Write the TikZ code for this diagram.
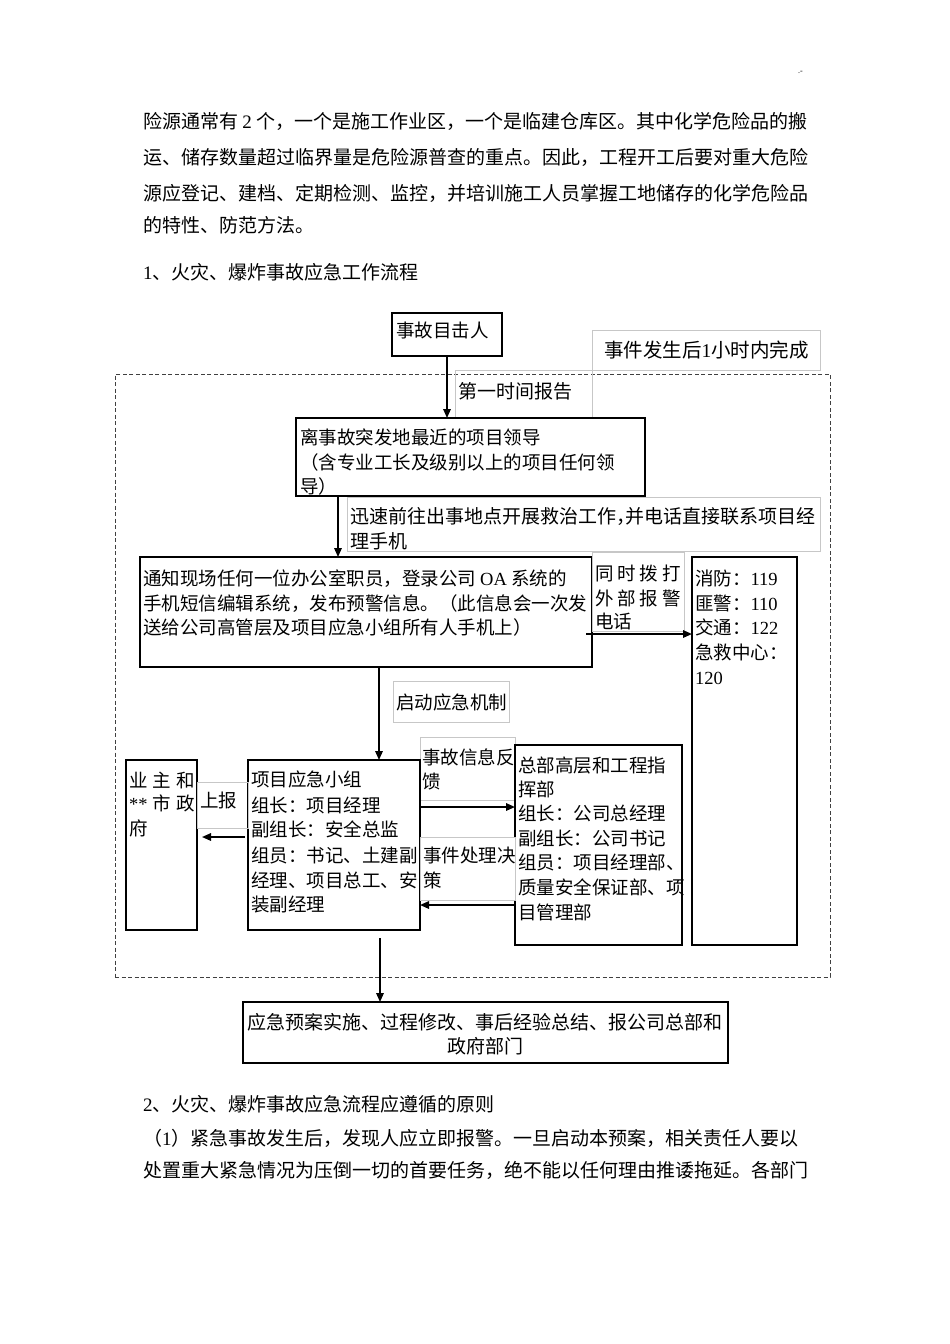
\documentclass[tikz,border=0pt]{standalone}
\usepackage{fontspec}
\setmainfont{Noto Sans CJK SC}
\newfontfamily\latf{Liberation Serif}
\usetikzlibrary{arrows.meta,calc}
\newcommand\lat[1]{{\latf #1}}
\newcounter{tn}
\newcommand\T[4][]{\stepcounter{tn}\node[txt,#1] (t\arabic{tn}) at (#2,#3+7) {#4};}
\begin{document}
\begin{tikzpicture}[x=1pt,y=-1pt,
  txt/.style={inner sep=0,outer sep=0,anchor=base west,font=\fontsize{18.5pt}{24pt}\selectfont},
  ptxt/.style={font=\fontsize{19pt}{24pt}\selectfont},
  box/.style={draw=black,line width=1.2pt,anchor=north west,inner sep=0,outer sep=0},
  tbox/.style={box,line width=2.2pt},
  lbl/.style={draw=black!22,line width=0.8pt,anchor=north west,inner sep=0,outer sep=0},
  dbox/.style={draw=black!75,dash pattern=on 4pt off 2.5pt,line width=1pt,anchor=north west,inner sep=0,outer sep=0},
  arr/.style={line width=1.6pt,-{Triangle[length=9pt,width=7.5pt]}}]
\useasboundingbox (0,0) rectangle (950,1344);
\fill[white] (0,0) rectangle (950,1344);

% page text
\T[font=\fontsize{8pt}{8pt}\selectfont]{798}{66}{\lat{.-}}
\T[ptxt]{143}{121}{险源通常有~\lat{2}~个，一个是施工作业区，一个是临建仓库区。其中化学危险品的搬}
\T[ptxt]{143}{157}{运、储存数量超过临界量是危险源普查的重点。因此，工程开工后要对重大危险}
\T[ptxt]{143}{193}{源应登记、建档、定期检测、监控，并培训施工人员掌握工地储存的化学危险品}
\T[ptxt]{143}{225}{的特性、防范方法。}
\T[ptxt]{143}{272}{\lat{1}、火灾、爆炸事故应急工作流程}

% dashed frame
\node[dbox,minimum width=715pt,minimum height=603pt] (Z) at (115,374) {};

% boxes
\node[box,minimum width=110pt,minimum height=43pt] (A) at (392,313) {};
\node[lbl,minimum width=228pt,minimum height=40pt] (B) at (592,330) {};
\node[lbl,minimum width=137pt,minimum height=48pt] (LA) at (455,370) {};
\node[tbox,minimum width=349pt,minimum height=78pt] (C) at (296,418) {};
\node[lbl,minimum width=473pt,minimum height=54pt] (LC) at (347,497) {};
\node[box,minimum width=452pt,minimum height=110pt] (D) at (140,557) {};
\node[lbl,minimum width=92pt,minimum height=79pt] (LD) at (592,552) {};
\node[box,minimum width=105pt,minimum height=388pt] (E) at (692,557) {};
\node[lbl,minimum width=116pt,minimum height=41pt] (LF) at (393,681) {};
\node[lbl,minimum width=95pt,minimum height=63pt] (LG) at (420,737) {};
\node[box,minimum width=172pt,minimum height=170pt] (F) at (248,760) {};
\node[box,minimum width=167pt,minimum height=200pt] (G) at (515,745) {};
\node[box,minimum width=71pt,minimum height=170pt] (H) at (126,760) {};
\node[lbl,minimum width=51pt,minimum height=46pt] (LH) at (197,782) {};
\node[lbl,fill=white,minimum width=95pt,minimum height=63pt] (LK) at (420,837) {};
\node[box,minimum width=485pt,minimum height=61pt] (I) at (243,1002) {};

% connectors
\coordinate (p1) at (338,0);
\coordinate (p2) at (379,0);
\coordinate (p3) at (380,0);
\coordinate (q1) at (0,634);
\coordinate (q2) at (0,807);
\coordinate (q3) at (0,905);
\coordinate (q4) at (0,837);
\draw[arr] (A.south) -- (A.south |- C.north);
\draw[arr] (p1 |- C.south) -- (p1 |- D.north);
\draw[arr] ($(D.east |- q1)+(-6,0)$) -- (E.west |- q1);
\draw[arr] (p2 |- D.south) -- (p2 |- F.north);
\draw[arr] (F.east |- q2) -- (G.west |- q2);
\draw[arr] (G.west |- q3) -- (F.east |- q3);
\draw[arr] ($(F.west |- q4)+(-3,0)$) -- ($(H.east |- q4)+(5,0)$);
\draw[arr] ($(p3 |- F.south)+(0,8)$) -- (p3 |- I.north);

% texts
\T{396}{330}{事故目击人}
\T[font=\fontsize{19.5pt}{24pt}\selectfont]{604}{350}{事件发生后\lat{1}小时内完成}
\T[ptxt]{458}{391}{第一时间报告}
\T{300}{437}{离事故突发地最近的项目领导}
\T{300}{462}{（含专业工长及级别以上的项目任何领}
\T{300}{486}{导）}
\T[ptxt]{350}{516}{迅速前往出事地点开展救治工作，\hspace{-9.5pt}并电话直接联系项目经}
\T[ptxt]{350}{541}{理手机}
\T{143}{578}{通知现场任何一位办公室职员，登录公司~\lat{OA}~系统的}
\T{143}{603}{手机短信编辑系统，发布预警信息。（此信息会一次发}
\T{143}{627}{送给公司高管层及项目应急小组所有人手机上）}
\T{595}{573}{\makebox[86pt][l]{同\hfill 时\hfill 拨\hfill 打}}
\T{595}{598}{\makebox[86pt][l]{外\hfill 部\hfill 报\hfill 警}}
\T{595}{621}{电话}
\T{695}{578}{消防：\lat{119}}
\T{695}{603}{匪警：\lat{110}}
\T{695}{627}{交通：\lat{122}}
\T{695}{652}{急救中心：}
\T{695}{677}{\lat{120}}
\T{396}{702}{启动应急机制}
\T{422}{757}{事故信息反}
\T{422}{781}{馈}
\T{251}{779}{项目应急小组}
\T{251}{805}{组长：项目经理}
\T{251}{829}{副组长：安全总监}
\T{251}{855}{组员：书记、土建副}
\T{251}{880}{经理、项目总工、安}
\T{251}{904}{装副经理}
\T{423}{855}{事件处理决}
\T{423}{880}{策}
\T{518}{765}{总部高层和工程指}
\T{518}{789}{挥部}
\T{518}{813}{组长：公司总经理}
\T{518}{838}{副组长：公司书记}
\T{518}{862}{组员：项目经理部、}
\T{518}{887}{质量安全保证部、项}
\T{518}{912}{目管理部}
\T{129}{780}{\makebox[66pt][l]{业\hfill 主\hfill 和}}
\T{129}{803}{\makebox[66pt][l]{\lat{**}\hfill 市\hfill 政}}
\T{129}{828}{府}
\T{200}{800}{上报}
\T[ptxt,anchor=base]{485}{1022}{应急预案实施、过程修改、事后经验总结、报公司总部和}
\T[ptxt,anchor=base]{485}{1046}{政府部门}

% bottom text
\T[ptxt]{143}{1104}{\lat{2}、火灾、爆炸事故应急流程应遵循的原则}
\T[ptxt]{143}{1138}{（\lat{1}）紧急事故发生后，发现人应立即报警。一旦启动本预案，相关责任人要以}
\T[ptxt]{143}{1170}{处置重大紧急情况为压倒一切的首要任务，绝不能以任何理由推诿拖延。各部门}
\end{tikzpicture}
\end{document}
